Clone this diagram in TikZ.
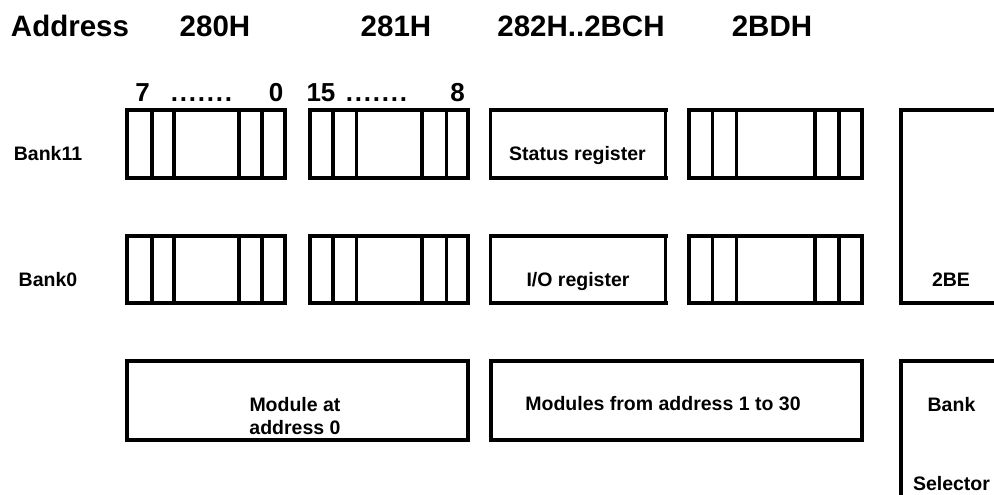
\documentclass[tikz,border=0pt]{standalone}
\usepackage{fontspec}
\setmainfont{Liberation Sans}
\newcommand{\dotrow}{\makebox[9pt]{.}\makebox[9pt]{.}\makebox[9pt]{.}\makebox[9pt]{.}\makebox[9pt]{.}\makebox[9pt]{.}\makebox[9pt]{.}}
\begin{document}
\begin{tikzpicture}[x=1pt,y=-1pt,
  box/.style={draw, rectangle, inner sep=0pt, outer sep=0pt, line width=3.3pt},
  openbox/.style={rectangle, inner sep=0pt, outer sep=0pt},
  wall/.style={line width=3.3pt},
  thinwall/.style={line width=2.2pt},
  hdr/.style={anchor=base, inner sep=0pt, font=\fontsize{29.5}{32}\selectfont\bfseries},
  bitlbl/.style={anchor=base, inner sep=0pt, font=\fontsize{26}{30}\selectfont\bfseries},
  lbl/.style={anchor=base, inner sep=0pt, font=\fontsize{19.5}{22}\selectfont\bfseries}]
\useasboundingbox (0,0) rectangle (994,495);
\fill[white] (0,0) rectangle (994,495);

% header
\node[hdr] (hA) at (70,37) {Address};
\node[hdr] (h0) at (215,37) {280H};
\node[hdr] (h1) at (396,37) {281H};
\node[hdr] (h2) at (581,37) {282H..2BCH};
\node[hdr] (h3) at (772,37) {2BDH};

% bit labels
\node[bitlbl] (l7) at (142.5,102) {7};
\node[bitlbl] (ld1) at (201.5,102) {\dotrow};
\node[bitlbl] (l0) at (276,102) {0};
\node[bitlbl] (l15) at (321,102) {15};
\node[bitlbl] (ld2) at (376.5,102) {\dotrow};
\node[bitlbl] (l8) at (457.5,102) {8};

% row labels
\node[lbl] (bk11) at (48,160) {Bank11};
\node[lbl] (bk0) at (48,286) {Bank0};

% Bank11 row
\node[box, minimum width=158pt, minimum height=68pt] (a11) at (206,144) {};
\node[box, minimum width=158pt, minimum height=68pt] (b11) at (389,144) {};
\node[openbox, minimum width=175pt, minimum height=68pt] (s11) at (578,144) {};
\node[box, minimum width=173pt, minimum height=68pt] (d11) at (775.5,144) {};
% Bank0 row
\node[box, minimum width=158pt, minimum height=67pt] (a0) at (206,269.5) {};
\node[box, minimum width=158pt, minimum height=67pt] (b0) at (389,269.5) {};
\node[openbox, minimum width=175pt, minimum height=67pt] (s0) at (578,269.5) {};
\node[box, minimum width=173pt, minimum height=67pt] (d0) at (775.5,269.5) {};
% module row
\node[box, minimum width=341pt, minimum height=79pt] (m0) at (297.5,400.5) {};
\node[box, minimum width=371pt, minimum height=79pt] (m1) at (676.5,400.5) {};

% register boxes: thick top/left/bottom, thinner right side
\foreach \n in {s11,s0} {
  \draw[wall] ([xshift=2pt]\n.north east) -- (\n.north west) -- (\n.south west) -- ([xshift=2pt]\n.south east);
  \draw[thinwall] (\n.north east) -- (\n.south east);
}

% bit dividers
\foreach \n in {a11,a0}
  \foreach \o in {25,47,112,135}
    \draw[wall] ([xshift=\o pt]\n.north west) -- ([xshift=\o pt]\n.south west);
\foreach \n in {b11,b0}
  \foreach \o in {23,46.7,112,136.7}
    \draw[wall] ([xshift=\o pt]\n.north west) -- ([xshift=\o pt]\n.south west);
\foreach \n in {d11,d0}
  \foreach \o in {23.7,47.7,126,150}
    \draw[wall] ([xshift=\o pt]\n.north west) -- ([xshift=\o pt]\n.south west);

% right side open boxes
\coordinate (r1a) at (1000,110);
\coordinate (r1b) at (901,110);
\coordinate (r1c) at (901,303);
\coordinate (r1d) at (1000,303);
\draw[wall] (r1a) -- (r1b) -- (r1c) -- (r1d);
\coordinate (r2a) at (1000,361);
\coordinate (r2b) at (901,361);
\coordinate (r2c) at (901,500);
\draw[wall] (r2a) -- (r2b) -- (r2c);

% box texts
\node[lbl] (tst) at (577.5,160) {Status register};
\node[lbl] (tio) at (578,286.5) {I/O register};
\node[lbl] (t2be) at (951,286) {2BE};
\node[lbl] (tm0a) at (295,411) {Module at};
\node[lbl] (tm0b) at (295,434) {address 0};
\node[lbl] (tm1) at (663,410) {Modules from address 1 to 30};
\node[lbl] (tbank) at (951.5,411) {Bank};
\node[lbl] (tsel) at (951.5,490) {Selector};
\end{tikzpicture}
\end{document}
